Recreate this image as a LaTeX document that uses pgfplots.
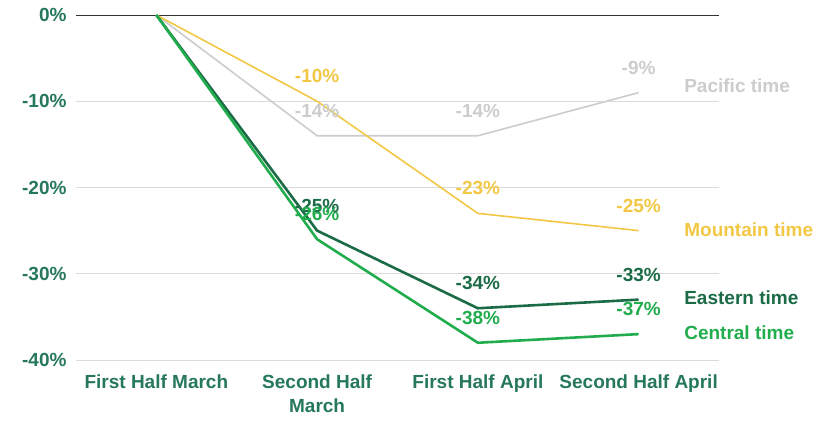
\documentclass[border=0pt]{standalone}
\usepackage{pgfplots}
\pgfplotsset{compat=1.18}
\usepackage{fontspec}
\setmainfont{Liberation Sans}

\definecolor{pacific}{HTML}{CCCCCC}
\definecolor{mountain}{HTML}{F2C744}
\definecolor{eastern}{HTML}{1B6B46}
\definecolor{central}{HTML}{21AD4D}
\definecolor{ticktxt}{HTML}{26785A}
\definecolor{gridc}{HTML}{DADADA}

\begin{document}
\begin{tikzpicture}[font=\fontsize{19bp}{24bp}\selectfont\bfseries]
\path[use as bounding box] (-76bp,-61bp) rectangle (749bp,360bp);
\begin{axis}[
    scale only axis,
    width=643bp, height=345bp,
    xmin=-0.5, xmax=3.5,
    ymin=-40, ymax=0,
    axis line style={draw=none},
    tick style={draw=none},
    xtick={0,1,2,3},
    xticklabels={First Half March,{Second Half\\March},First Half April,Second Half April},
    xticklabel style={align=center, text=ticktxt, yshift=-11bp},
    ytick={-40,-30,-20,-10},
    yticklabels={-40\%,-30\%,-20\%,-10\%},
    extra y ticks={0},
    extra y tick labels={0\%},
    extra y tick style={grid style={black!80, line width=1bp}},
    yticklabel style={text=ticktxt, xshift=-6bp},
    ymajorgrids=true,
    grid style={gridc, line width=1bp},
    clip=false,
    nodes near coords align={center},
    every node near coord/.append style={anchor=center, yshift=25bp, inner sep=0pt},
]

% lines
\addplot[pacific, line width=1.6bp, mark=none] coordinates {(0,0) (1,-14) (2,-14) (3,-9)};
\addplot[mountain, line width=1.6bp, mark=none] coordinates {(0,0) (1,-10) (2,-23) (3,-25)};
\addplot[eastern, line width=2.6bp, mark=none] coordinates {(0,0) (1,-25) (2,-34) (3,-33)};
\addplot[central, line width=2.6bp, mark=none] coordinates {(0,0) (1,-26) (2,-38) (3,-37)};

% value labels
\addplot[draw=none, mark=none, point meta=explicit symbolic, nodes near coords,
  every node near coord/.append style={text=pacific}]
  coordinates {(1,-14) [-14\%] (2,-14) [-14\%] (3,-9) [-9\%]};
\addplot[draw=none, mark=none, point meta=explicit symbolic, nodes near coords,
  every node near coord/.append style={text=mountain}]
  coordinates {(1,-10) [-10\%] (2,-23) [-23\%] (3,-25) [-25\%]};
\addplot[draw=none, mark=none, point meta=explicit symbolic, nodes near coords,
  every node near coord/.append style={text=eastern}]
  coordinates {(1,-25) [-25\%] (2,-34) [-34\%] (3,-33) [-33\%]};
\addplot[draw=none, mark=none, point meta=explicit symbolic, nodes near coords,
  every node near coord/.append style={text=central}]
  coordinates {(1,-26) [-26\%] (2,-38) [-38\%] (3,-37) [-37\%]};

% series names
\node[anchor=west, inner sep=0pt, text=pacific] at (axis cs:3.283,-8.23) {Pacific time};
\node[anchor=west, inner sep=0pt, text=mountain] at (axis cs:3.283,-24.93) {Mountain time};
\node[anchor=west, inner sep=0pt, text=eastern] at (axis cs:3.283,-32.8) {Eastern time};
\node[anchor=west, inner sep=0pt, text=central] at (axis cs:3.283,-36.87) {Central time};
\end{axis}
\end{tikzpicture}
\end{document}
